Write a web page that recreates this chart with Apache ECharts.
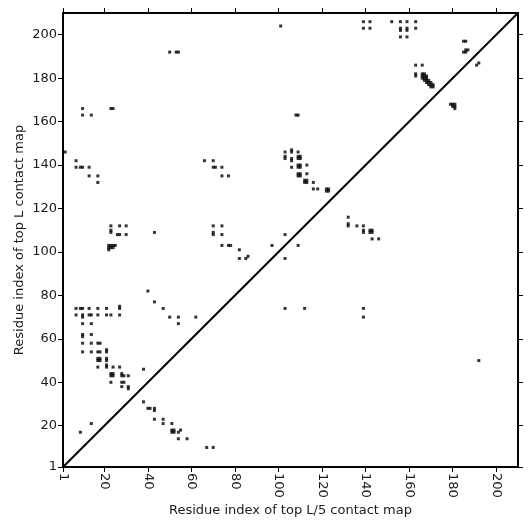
<!doctype html>
<html>
<head>
    <meta charset="utf-8">
    <title>Contact map</title>
    <script src="https://cdn.jsdelivr.net/npm/echarts@6/dist/echarts.min.js"></script>
    <style>
        html, body { margin: 0; padding: 0; background: #fff; }
    </style>
</head>
<body>
    <div id="main" style="width: 531px;height:531px;"></div>
</body>
<script type="text/javascript">
    // residue range and tick labels
    var axisMin = 1;
    var axisMax = 210;
    var tickValues = [1, 20, 40, 60, 80, 100, 120, 140, 160, 180, 200];

    // contacts above the diagonal
    var upperContacts = [
        [50, 192], [53, 192], [54, 192],
        [10, 166], [10, 163], [14, 163], [23, 166], [24, 166],
        [2, 146], [7, 142], [66, 142], [70, 142],
        [101, 204], [108, 163], [109, 163],
        [103, 146], [106, 146], [106, 147], [109, 146],
        [103, 143], [103, 144], [106, 142], [106, 143], [109, 143], [110, 143], [109, 144], [110, 144],
        [7, 139], [9, 139], [10, 139], [13, 139], [13, 135], [17, 135], [17, 132],
        [23, 112], [27, 112], [30, 112], [23, 109], [23, 110], [26, 108], [27, 108], [30, 108], [43, 109],
        [70, 112], [70, 109],
        [22, 103], [23, 103], [24, 103], [25, 103], [22, 102], [23, 102], [24, 102], [22, 101],
        [40, 82], [43, 77], [47, 74], [50, 70], [54, 70], [62, 70],
        [7, 74], [9, 74], [10, 74], [13, 74], [17, 74], [21, 74], [27, 74], [27, 75],
        [7, 71], [10, 71], [10, 70], [13, 71], [14, 71], [17, 71], [21, 71], [23, 71], [27, 71],
        [54, 67], [10, 67], [14, 67],
        [10, 62], [10, 61], [14, 62],
        [10, 58], [14, 58], [17, 58], [18, 58],
        [10, 54], [14, 54], [17, 54], [18, 54], [21, 54], [21, 55],
        [17, 51], [18, 51], [17, 50], [18, 50], [21, 51], [21, 50],
        [17, 47], [21, 47], [21, 48], [24, 47], [27, 47],
        [38, 46], [14, 21], [9, 17],
        [70, 139], [71, 139], [74, 139], [74, 135], [77, 135],
        [106, 139], [109, 139], [110, 139], [109, 140], [110, 140], [113, 140],
        [109, 135], [110, 135], [109, 136], [110, 136], [113, 136],
        [112, 132], [113, 132], [112, 133], [113, 133], [116, 132],
        [116, 129], [118, 129], [122, 129], [123, 129], [122, 128], [123, 128],
        [70, 108], [74, 108], [74, 112], [103, 108],
        [74, 103], [77, 103], [78, 103], [97, 103], [109, 103],
        [82, 101], [82, 97], [85, 97], [86, 98], [103, 97],
        [139, 206], [142, 206], [139, 203], [142, 203],
        [152, 206], [156, 206], [159, 206], [163, 206],
        [156, 203], [156, 202], [159, 203], [159, 202], [163, 203],
        [156, 199], [159, 199],
        [185, 197], [186, 197], [185, 192], [186, 192], [186, 193], [187, 193],
        [163, 186], [166, 186], [163, 182], [163, 181],
        [166, 182], [167, 182], [166, 181], [167, 181], [168, 181],
        [166, 180], [167, 180], [168, 180], [167, 179], [168, 179], [169, 179],
        [168, 178], [169, 178], [170, 178], [169, 177], [170, 177], [171, 177],
        [170, 176], [171, 176]
    ];

    // contacts below the diagonal
    var lowerContacts = [
        [23, 43], [24, 43], [23, 44], [24, 44], [28, 43], [29, 43], [28, 44], [31, 43],
        [23, 40], [28, 40], [29, 40], [28, 38], [31, 38], [31, 37],
        [38, 31], [40, 28], [41, 28], [43, 28], [43, 27],
        [43, 23], [47, 23], [47, 21], [51, 21],
        [51, 18], [52, 18], [51, 17], [52, 17], [55, 18], [54, 17],
        [54, 14], [58, 14], [67, 10], [70, 10],
        [103, 74], [112, 74],
        [132, 116], [132, 112], [132, 113], [136, 112],
        [139, 112], [139, 109], [139, 110], [142, 109], [143, 109], [142, 110], [143, 110],
        [143, 106], [146, 106],
        [139, 74], [139, 70], [192, 50],
        [192, 187], [191, 186],
        [179, 168], [180, 168], [181, 168], [180, 167], [181, 167], [181, 166]
    ];

    var myChart = echarts.init(document.getElementById('main'));

    var labelFont = { fontFamily: 'DejaVu Sans', fontSize: 13, color: '#1a1a1a' };

    function makeAxis(pos, showLabel, name, extra) {
        var ax = {
            type: 'value',
            position: pos,
            min: axisMin,
            max: axisMax,
            splitLine: { show: false },
            axisLine: { show: true, onZero: false, lineStyle: { color: '#000', width: 2 } },
            axisTick: { show: true, inside: false, length: 5, customValues: tickValues, lineStyle: { color: '#000', width: 1 } },
            axisLabel: Object.assign({ show: showLabel, customValues: tickValues, margin: 6 }, labelFont, extra || {})
        };
        if (name) {
            ax.name = name;
            ax.nameLocation = 'middle';
            ax.nameMoveOverlap = false;
            ax.nameTextStyle = { fontFamily: 'DejaVu Sans', fontSize: 13, color: '#1a1a1a' };
        }
        return ax;
    }

    var xBottom = makeAxis('bottom', true, 'Residue index of top L/5 contact map', { rotate: -90 });
    xBottom.nameGap = 37;
    var yLeft = makeAxis('left', true, 'Residue index of top L contact map');
    yLeft.nameGap = 37;

    var option = {
        animation: false,
        grid: { left: 63, right: 13, top: 13, bottom: 64 },
        xAxis: [xBottom, makeAxis('top', false)],
        yAxis: [yLeft, makeAxis('right', false)],
        series: [{
            type: 'scatter',
            symbol: 'rect',
            symbolSize: 3,
            itemStyle: { color: '#000' },
            data: upperContacts
        }, {
            type: 'scatter',
            symbol: 'rect',
            symbolSize: 3,
            itemStyle: { color: '#000' },
            data: lowerContacts
        }, {
            type: 'line',
            symbol: 'none',
            lineStyle: { color: '#000', width: 2 },
            data: [[axisMin, axisMin], [axisMax, axisMax]]
        }]
    };

    myChart.setOption(option);
</script>
</html>
